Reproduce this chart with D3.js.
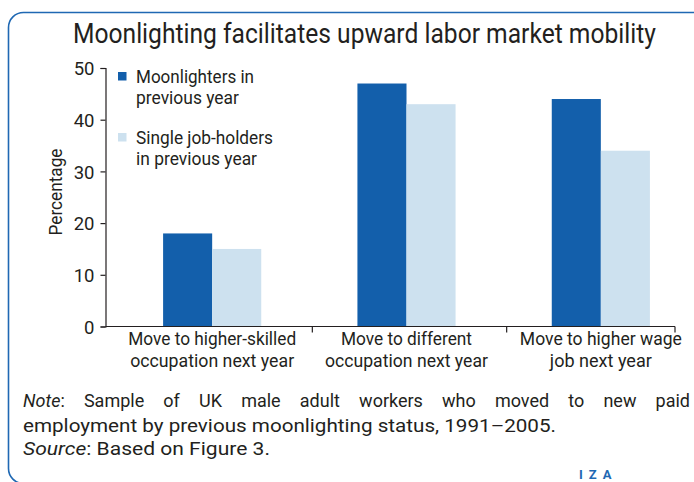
<!DOCTYPE html>
<html>
<head>
<meta charset="utf-8">
<script src="https://cdn.jsdelivr.net/npm/d3@7"></script>
<style>
  html, body { margin: 0; padding: 0; background: #fff; }
  svg { display: block; }
  text { fill: #231f20; font-family: Roboto, "Liberation Sans", sans-serif; }
</style>
</head>
<body>
<svg id="chart" width="694" height="482"></svg>
<script>
// Share of workers making each move, by moonlighting status in the previous year (%)
const categories = [
  ["Move to higher-skilled", "occupation next year"],
  ["Move to different", "occupation next year"],
  ["Move to higher wage", "job next year"]
];
const seriesNames = [
  ["Moonlighters in", "previous year"],
  ["Single job-holders", "in previous year"]
];
const moonlighters = [18, 47, 44];
const singleJobHolders = [15, 43, 34];
const yTicks = [0, 10, 20, 30, 40, 50];

const colors = ["#135fab", "#cde1ef"];
const series = [moonlighters, singleJobHolders];

const svg = d3.select("#chart");

// Squeeze a text horizontally to a given width (condensed typeface look)
function fit(sel, width) {
  sel.attr("textLength", width).attr("lengthAdjust", "spacingAndGlyphs");
  return sel;
}

// Rounded frame around the whole figure
svg.append("rect")
  .attr("x", 8.5).attr("y", 12.5)
  .attr("width", 740).attr("height", 471)
  .attr("rx", 15).attr("ry", 15)
  .attr("fill", "none")
  .attr("stroke", "#1f68b3")
  .attr("stroke-width", 1.6);

// Title, condensed horizontally with a transform so it spans a set width
const titleG = svg.append("g");
const title = titleG.append("text")
  .attr("x", 0).attr("y", 0)
  .attr("font-size", 27)
  .text("Moonlighting facilitates upward labor market mobility");
const titleW = title.node().getComputedTextLength();
titleG.attr("transform", `translate(73,43) scale(${583 / titleW},1)`);

// Plot area
const axisLeft = 105.5, axisRight = 675, yBottom = 326.5, yTop = 68;
const y = d3.scaleLinear().domain([0, 50]).range([yBottom, yTop]);
const x = d3.scaleBand().domain(d3.range(categories.length)).range([115, 698]);
const inner = d3.scaleBand().domain(d3.range(series.length));
const groupWidth = x.bandwidth() * 0.505;
inner.range([0, groupWidth]);

// Bars
const groups = svg.append("g").selectAll("g")
  .data(categories.map((c, i) => i))
  .join("g")
  .attr("transform", i => `translate(${x(i) + x.bandwidth() / 2 - groupWidth / 2},0)`);

groups.selectAll("rect")
  .data(i => series.map((s, k) => ({ k, v: s[i] })))
  .join("rect")
  .attr("x", d => inner(d.k))
  .attr("width", inner.bandwidth())
  .attr("y", d => y(d.v))
  .attr("height", d => y(0) - y(d.v))
  .attr("fill", d => colors[d.k]);

// Y axis
const yAxis = svg.append("g")
  .attr("transform", `translate(${axisLeft},0)`)
  .call(d3.axisLeft(y).tickValues(yTicks).tickSize(5).tickPadding(6).tickFormat(d3.format("d")));
yAxis.select(".domain").attr("stroke", "#231f20").attr("stroke-width", 1.2);
yAxis.selectAll(".tick line").attr("stroke", "#231f20").attr("stroke-width", 1.2);
yAxis.selectAll(".tick text")
  .attr("font-size", 18.5)
  .attr("font-family", "Roboto, sans-serif")
  .attr("fill", "#231f20")
  .attr("dy", "0.36em");

// X axis baseline with category separators
const xAxisG = svg.append("g");
xAxisG.append("line")
  .attr("x1", axisLeft).attr("x2", axisRight)
  .attr("y1", yBottom).attr("y2", yBottom)
  .attr("stroke", "#231f20").attr("stroke-width", 1.2);
const separators = d3.range(1, categories.length).map(i => x(i) + 3).concat([axisRight]);
xAxisG.selectAll("line.sep")
  .data(separators)
  .join("line")
  .attr("class", "sep")
  .attr("x1", d => d).attr("x2", d => d)
  .attr("y1", yBottom).attr("y2", yBottom + 6)
  .attr("stroke", "#231f20").attr("stroke-width", 1.2);

// Category labels (two lines each)
const catWidths = [[168, 164], [131, 163], [162, 102]];
categories.forEach((lines, i) => {
  lines.forEach((line, j) => {
    fit(xAxisG.append("text")
      .attr("x", x(i) + x.bandwidth() / 2)
      .attr("y", 345 + j * 22)
      .attr("text-anchor", "middle")
      .attr("font-size", 18.5)
      .text(line), catWidths[i][j]);
  });
});

// Y axis title
fit(svg.append("text")
  .attr("transform", `translate(62,192) rotate(-90)`)
  .attr("text-anchor", "middle")
  .attr("font-size", 18.5)
  .text("Percentage"), 87);

// Legend
const legend = svg.append("g");
const legendRows = [72, 133];
const legendWidths = [[118, 103], [137, 121]];
seriesNames.forEach((name, k) => {
  legend.append("rect")
    .attr("x", 118).attr("y", legendRows[k])
    .attr("width", 8.5).attr("height", 8.5)
    .attr("fill", colors[k]);
  name.forEach((line, j) => {
    fit(legend.append("text")
      .attr("x", 136)
      .attr("y", legendRows[k] + 10.5 + j * 21.5)
      .attr("font-size", 18.5)
      .text(line), legendWidths[k][j]);
  });
});

// Note and source; the first note line is justified to the full width
const noteFont = 18;
function richLine(yPos, parts) {
  const t = svg.append("text")
    .attr("x", 23).attr("y", yPos)
    .attr("font-size", noteFont);
  parts.forEach(p => {
    t.append("tspan").attr("font-style", p.italic ? "italic" : null).text(p.text);
  });
  return t;
}
const note1 = richLine(407, [{ text: "Note", italic: true }, { text: ": Sample of UK male adult workers who moved to new paid" }]);
{
  const w = note1.node().getComputedTextLength();
  const spaces = (note1.text().match(/ /g) || []).length;
  note1.attr("word-spacing", (690 - 23 - w) / spaces);
}
fit(richLine(431.5, [{ text: "employment by previous moonlighting status, 1991\u20132005." }]), 533);
fit(richLine(455, [{ text: "Source", italic: true }, { text: ": Based on Figure 3." }]), 247);

// Publisher mark
svg.append("text")
  .attr("x", 579).attr("y", 479)
  .attr("font-size", 13)
  .attr("font-weight", "bold")
  .attr("letter-spacing", 6)
  .style("fill", "#1f68b3")
  .text("IZA");
</script>
</body>
</html>
